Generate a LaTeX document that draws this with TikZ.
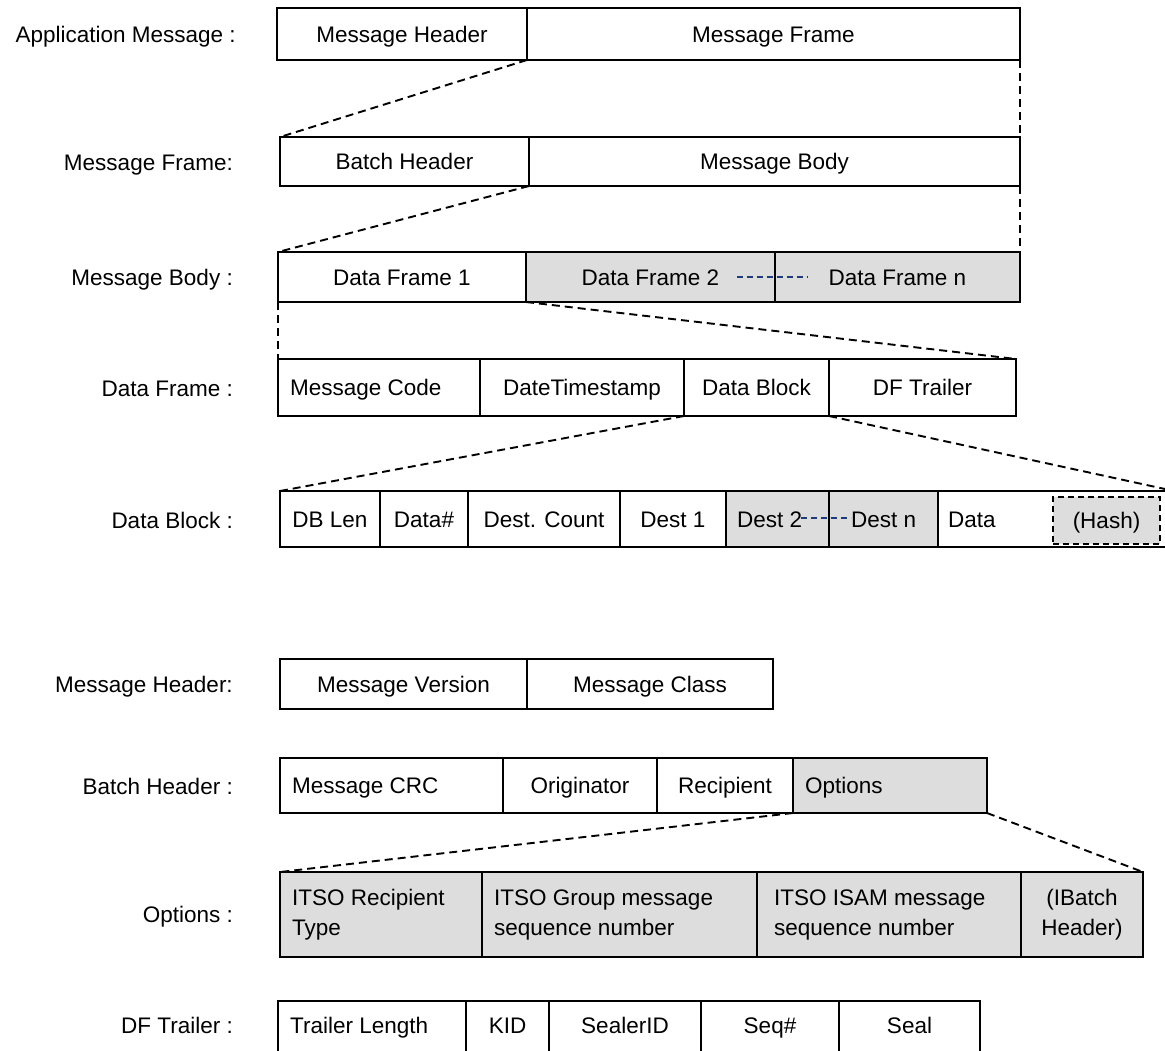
\documentclass[tikz,border=0pt]{standalone}
\usepackage{fontspec}
\setmainfont{Liberation Sans}
\definecolor{cellgrey}{HTML}{DDDDDD}
\definecolor{navyline}{HTML}{1F3C78}
\newcommand\mkcell[7][]{\node[box,#1,minimum width={#5pt-#3pt},minimum height={#6pt-#4pt}] (#2) at (#3,#4) {#7};}
\begin{document}
\begin{tikzpicture}[x=1pt,y=-1pt,
  every node/.style={font=\fontsize{22.5}{30}\selectfont},
  st/.style={text height=18pt, text depth=2pt},
  box/.style={draw=black, line width=1.8pt, anchor=north west, inner sep=0pt, outer sep=0pt, align=center, st},
  ml/.style={text height={}, text depth={}},
  grey/.style={fill=cellgrey},
  conn/.style={draw=black, line width=1.9pt, dash pattern=on 8pt off 5pt},
  bluedash/.style={draw=navyline, line width=1.4pt, dash pattern=on 6pt off 4pt},
  rowlabel/.style={anchor=east, inner sep=0pt, st},
  celltext/.style={anchor=west, inner sep=0pt, align=left, st},
]
\path[use as bounding box] (0,0) rectangle (1165,1050);
\clip (0,0) rectangle (1165,1050);

% row labels
\node[rowlabel] (lapp) at (236,34) {Application Message :};
\node[rowlabel] (lmf) at (233,162) {Message Frame:};
\node[rowlabel] (lmb) at (233,277) {Message Body :};
\node[rowlabel] (ldf) at (233,388) {Data Frame :};
\node[rowlabel] (ldb) at (233,520) {Data Block :};
\node[rowlabel] (lmh) at (233,684) {Message Header:};
\node[rowlabel] (lbh) at (233,786) {Batch Header :};
\node[rowlabel] (lopt) at (233,914) {Options :};
\node[rowlabel] (ldft) at (233,1025) {DF Trailer :};

% row 1
\mkcell{mh}{277}{8}{527}{60}{Message Header}
\mkcell{mf}{527}{8}{1020}{60}{Message Frame}
% row 2
\mkcell{bh}{280}{137}{529}{186}{Batch Header}
\mkcell{mb}{529}{137}{1020}{186}{Message Body}
% row 3
\mkcell{df1}{278}{252}{526}{302}{Data Frame 1}
\mkcell[grey]{df2}{526}{252}{775}{302}{Data Frame 2}
\mkcell[grey]{dfn}{775}{252}{1020}{302}{Data Frame n}
\coordinate (b1s) at (737,277);
\coordinate (b1e) at (808,277);
\draw[bluedash] (b1s) -- (b1e);
% row 4
\mkcell{mc}{278}{359}{480}{416}{}
\node[celltext] (mct) at ([xshift=12pt]mc.west) {Message Code};
\mkcell{dts}{480}{359}{684}{416}{DateTimestamp}
\mkcell{db}{684}{359}{829}{416}{Data Block}
\mkcell{dft}{829}{359}{1016}{416}{DF Trailer}
% row 5
\mkcell{dbl}{280}{491}{380}{547}{DB Len}
\mkcell{dnum}{380}{491}{468}{547}{Data\#}
\mkcell{dc}{468}{491}{620}{547}{Dest. Count}
\mkcell[grey]{d2}{726}{491}{829}{547}{}
\node[celltext] (d2t) at ([xshift=11pt]d2.west) {Dest 2};
\mkcell[grey]{dn}{829}{491}{938}{547}{}
\node[celltext] (dnt) at ([xshift=22pt]dn.west) {Dest n};
\mkcell[line width=2.5pt]{d1}{620}{491}{726}{547}{Dest 1}
\mkcell{data}{938}{491}{1185}{547}{}
\node[celltext] (datat) at ([xshift=10pt]data.west) {Data};
\mkcell[grey,dash pattern=on 6pt off 4pt]{hash}{1053}{497}{1160}{544}{(Hash)}
\coordinate (b2s) at (801,518);
\coordinate (b2e) at (851,518);
\draw[bluedash] (b2s) -- (b2e);
% row 6
\mkcell{mv}{280}{659}{527}{709}{Message Version}
\mkcell{mcl}{527}{659}{773}{709}{Message Class}
% row 7
\mkcell{crc}{280}{758}{503}{813}{}
\node[celltext] (crct) at ([xshift=12pt]crc.west) {Message CRC};
\mkcell{orig}{503}{758}{657}{813}{Originator}
\mkcell{rec}{657}{758}{793}{813}{Recipient}
\mkcell[grey]{opt}{793}{758}{987}{813}{}
\node[celltext] (optt) at ([xshift=12pt]opt.west) {Options};
% row 8
\mkcell[grey]{o1}{280}{872}{482}{957}{}
\node[celltext,ml] (o1t) at ([xshift=12pt]o1.west) {ITSO Recipient\\Type};
\mkcell[grey]{o2}{482}{872}{757}{957}{}
\node[celltext,ml] (o2t) at ([xshift=12pt]o2.west) {ITSO Group message\\sequence number};
\mkcell[grey]{o3}{757}{872}{1021}{957}{}
\node[celltext,ml] (o3t) at ([xshift=17pt]o3.west) {ITSO ISAM message\\sequence number};
\mkcell[grey,ml]{o4}{1021}{872}{1143}{957}{(IBatch\\Header)}
% row 9 (cut off by the lower edge)
\mkcell{tl}{278}{1001}{466}{1054}{}
\node[celltext] (tlt) at ([xshift=12pt,yshift=2pt]tl.west) {Trailer Length};
\mkcell[yshift=0pt]{kid}{466}{1001}{549}{1054}{}
\node[st,inner sep=0pt] (kidt) at ([yshift=2pt]kid.center) {KID};
\mkcell{sid}{549}{1001}{701}{1054}{}
\node[st,inner sep=0pt] (sidt) at ([yshift=2pt]sid.center) {SealerID};
\mkcell{seq}{701}{1001}{839}{1054}{}
\node[st,inner sep=0pt] (seqt) at ([yshift=2pt]seq.center) {Seq\#};
\mkcell{seal}{839}{1001}{980}{1054}{}
\node[st,inner sep=0pt] (sealt) at ([yshift=2pt]seal.center) {Seal};

% dashed expansion connectors
\draw[conn] (mh.south east) -- (bh.north west);
\draw[conn] (mf.south east) -- (mb.north east);
\draw[conn] (bh.south east) -- (df1.north west);
\draw[conn] (mb.south east) -- (dfn.north east);
\draw[conn] (df1.south west) -- (mc.north west);
\draw[conn] (df1.south east) -- (dft.north east);
\draw[conn] (db.south west) -- (dbl.north west);
\coordinate (dbend) at (1165,489);
\draw[conn] (dft.south west) -- (dbend);
\draw[conn] (opt.south west) -- (o1.north west);
\draw[conn] (opt.south east) -- (o4.north east);
\end{tikzpicture}
\end{document}
